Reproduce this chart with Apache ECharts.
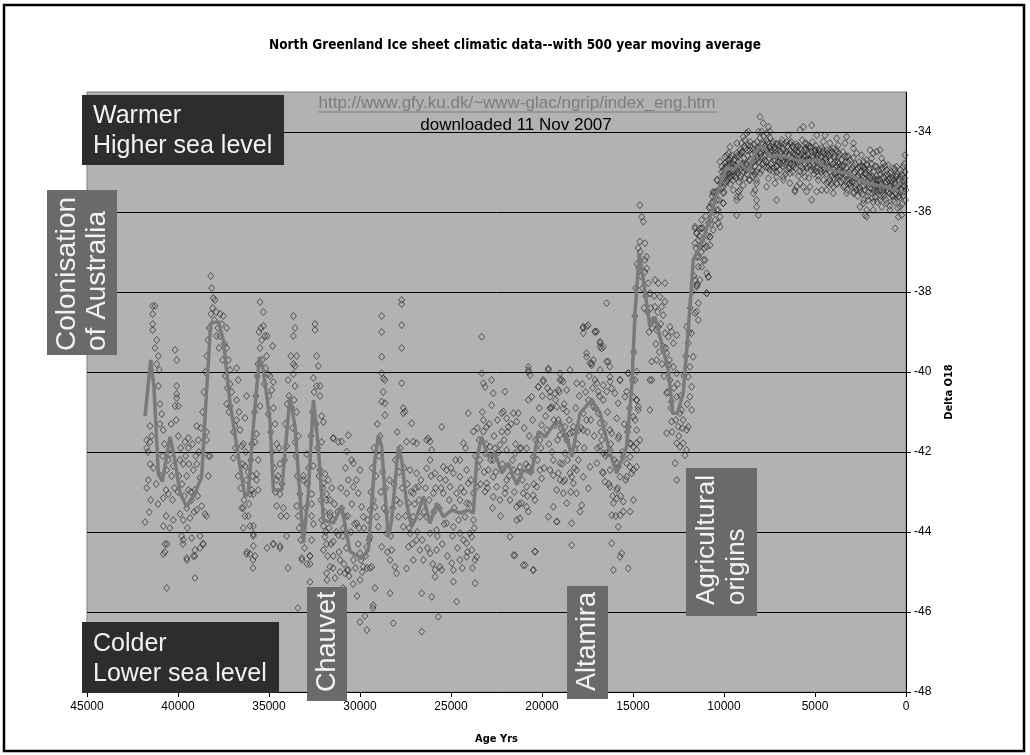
<!DOCTYPE html>
<html>
<head>
<meta charset="utf-8">
<script src="https://cdn.jsdelivr.net/npm/echarts@6/dist/echarts.min.js"></script>
<style>
  html, body { margin: 0; padding: 0; background: #fff; }
  #chart { width: 1030px; height: 755px; }
</style>
</head>
<body>
<div id="chart"></div>
<script>
const yTicks = [-48,-46,-44,-42,-40,-38,-36,-34];

// 500 year moving average (age in years BP, delta O18)
const avgAge = [41810,41500,41320,41080,40860,40440,40170,39890,39520,39070,38700,38460,38200,37780,37510,37140,36590,36320,36140,35860,35530,35310,34950,34760,34300,33850,33570,33110,32840,32560,32290,32010,31470,31010,30550,29910,29540,29180,28990,28810,28630,28440,28260,27890,27710,27440,27160,26890,26520,26150,25790,25420,24960,24510,24050,23770,23590,23320,22950,22580,22210,21850,21390,21030,20570,20200,19830,19380,19010,18550,18370,17910,17270,16810,16260,15900,15350,15070,14890,14650,14430,14070,13790,13520,13060,12820,12560,12240,11960,11690,11140,10590,10130,9850,9490,9120,8660,8300,8020,7750,7470,7110,6560,6010,5460,4910,4360,3810,3260,2710,2160,1610,1060,700,330];
const avgD18 = [-41.1,-39.7,-40.37,-42.53,-42.74,-41.62,-42.2,-43.03,-43.37,-43.03,-42.62,-40.7,-38.78,-38.74,-39.2,-40.78,-42.37,-43.12,-43.03,-41.37,-39.62,-39.95,-41.2,-42.95,-42.95,-40.62,-41.37,-44.28,-43.03,-40.7,-41.87,-43.7,-43.78,-43.37,-44.49,-44.66,-44.45,-42.2,-41.58,-41.87,-43.03,-44.12,-43.7,-41.87,-42.2,-43.28,-43.87,-43.62,-43.12,-43.78,-43.28,-43.62,-43.45,-43.53,-43.45,-43.53,-42.2,-41.62,-42.12,-42.03,-42.53,-42.28,-42.82,-42.45,-42.53,-41.49,-41.62,-41.33,-41.24,-41.78,-42.12,-41.03,-40.7,-41.03,-42.03,-42.53,-41.87,-40.37,-38.53,-37.03,-37.7,-38.87,-38.62,-39.12,-39.95,-41.03,-41.03,-40.53,-38.95,-37.2,-36.7,-35.87,-35.2,-34.87,-34.95,-34.78,-34.99,-34.53,-34.37,-34.41,-34.62,-34.58,-34.62,-34.7,-34.74,-34.7,-34.91,-34.99,-35.03,-35.16,-35.28,-35.33,-35.37,-35.45,-35.28];

// raw samples [age, delta O18], by period
const ptsEarly = [
  [41390,-38.35],[41260,-38.35],[41390,-38.55],[41390,-38.8],[41390,-38.95],[41170,-39.2],[41260,-39.4],[41080,-39.6],[41170,-39.8],[41030,-39.95],[41080,-40.35],[40990,-40.8],[40900,-41.05],[40990,-41.3],[40810,-41.45],[41540,-41.35],[41720,-41.7],[41540,-41.75],[41720,-41.9],[41540,-42.3],[41630,-42.7],[41720,-42.9],[41500,-43.2],[41580,-43.5],[41810,-43.75],[40810,-43.15],[40660,-42.95],[40810,-43.85],[40710,-44.3],[40810,-44.55],[40620,-42.45],[40440,-42.05],[40260,-42.35],[40350,-42.6],[40530,-43.05],
  [40160,-39.45],[40070,-39.7],[40070,-40.35],[40070,-40.55],[40070,-40.65],[39980,-40.85],[40160,-40.85],[39980,-41.6],[39620,-41.75],[39430,-41.65],[39430,-41.9],[39890,-42.2],[39710,-42.3],[39520,-42.6],[39160,-42.45],[38970,-41.35],[38880,-41.7],[38970,-42.3],[38790,-42.65],[39070,-42.95],[39430,-42.95],[39250,-43.2],[39520,-43.4],[39890,-43.55],[39710,-43.7],[39340,-43.65],[38970,-43.45],[38700,-43.35],[38520,-43.55],[38430,-43.6],[40260,-43.7],[39800,-44.1],[39710,-44.2],[39250,-44.15],[38790,-44.1],[38610,-44.3],[39070,-44.45],[39160,-44.6],[39520,-44.65],[38430,-41.7],[38330,-42.1],[38240,-42.1],[38330,-42.6],[38430,-41.5],
  [40620,-45.4],[39070,-45.15],[39730,-44.3],[39510,-44.7],[40600,-44.3],[40720,-44.5],[39070,-44.6],[38790,-44.4],[38630,-44.3],
  [38200,-37.6],[38150,-37.9],[38060,-38.15],[37970,-38.2],[38190,-38.55],[37690,-38.55],[37510,-38.6],[37330,-38.9],[37880,-39.1],[37690,-39.1],[37330,-39.4],[37230,-39.7],[37140,-39.95],[36780,-39.9],[36690,-40.2],[37140,-40.3],[37330,-40.8],[37140,-40.85],[36780,-40.7],[36230,-40.6],[36320,-41.15],[36780,-41.2],[36870,-41.35],[36590,-41.45],[36410,-41.8],[36500,-41.85],[36960,-42.15],[36320,-42.35],[36230,-42.7],[36040,-43.05],[36500,-43.4],[36320,-43.6],[36040,-43.85],[35860,-44.05],[36230,-44.55],[35770,-44.6],[35860,-44.35],
  [36210,-44.5],[35880,-44.7],[35880,-44.9],[35110,-44.4],[34780,-44.3],[34400,-44.4],[33960,-44.9],[33190,-44.7],[32750,-44.8],
  [35490,-38.25],[35310,-38.5],[35310,-38.85],[35220,-39.1],[35090,-39.1],[34800,-39.35],[35490,-39.4],[35400,-39.2],[35130,-39.6],[35040,-40.05],[34950,-40.1],[34760,-40.25],[34850,-40.45],[35040,-41.05],[34760,-40.9],[34670,-41.3],[35490,-40.85],[35680,-41.55],[35770,-41.75],[35590,-42.2],[35680,-42.55],[35680,-42.7],[35860,-43.05],[35590,-42.95],[35950,-42.95],[36410,-43.4],[36140,-43.6],[35860,-43.85],[36040,-44.55],[36410,-43.9],[35860,-44.1],
  [33660,-38.6],[33570,-38.9],[33660,-39.1],[33480,-39.6],[33660,-39.8],[33570,-39.85],[33660,-40.05],[33570,-40.35],[33480,-41.0],[33390,-41.6],[33570,-41.75],[34030,-41.85],[34580,-41.8],[34400,-42.3],[34580,-42.7],[34400,-43.05],[34580,-43.35],[34210,-43.4],[34030,-43.6],[34030,-44.1],[34400,-44.35],[34760,-44.3],[33480,-43.35],[33390,-43.6],[33300,-43.05],[33110,-42.7],[33110,-42.6],[32930,-42.05],[32660,-43.05],[32660,-43.3],[32660,-43.6],[32560,-43.8],[32660,-44.2],[32750,-44.6],[33200,-44.65],
  [32470,-38.8],[32470,-38.95],[32380,-39.6],[32290,-39.85],[32560,-40.15],[32380,-40.35],[32200,-40.35],[32200,-40.6],[32110,-41.1],[32010,-41.25],[32110,-41.75],[32560,-42.35],[31920,-42.55],[31740,-42.7],[31830,-43.05],[31650,-43.2],[31650,-43.6],[31470,-43.7],[32010,-43.85],[31830,-44.3],[32010,-44.45],[31470,-44.6],[31470,-41.65],[31190,-41.75],
  [33410,-45.9],[32750,-45.8],[32910,-44.8],[32750,-44.6],[32750,-45.25],[31810,-45.2],[31370,-45.15],[30930,-45.4],[31480,-44.9],[31100,-45.0],[30710,-44.95],[30380,-45.3],[30160,-45.6],[30000,-46.25],[29730,-46.1],[29620,-46.45],[29290,-45.9],[30000,-45.2],[29620,-44.9],[29180,-45.4],[29450,-44.9],
  [41650,-42.0],[41450,-41.6],[41350,-42.4],[41200,-42.8],[41100,-43.3],[40950,-42.6],[40850,-42.1],[40750,-41.8],[40650,-43.6],[40550,-42.2],[40450,-43.9],[40380,-41.3],[40300,-43.2],[40200,-42.9],[40100,-41.2],[40000,-43.0],[39950,-42.6],[39850,-41.9],[39780,-42.8],[39650,-43.1],[39580,-42.1],[39480,-43.9],[39400,-42.3],[39300,-43.0],[39200,-41.8],[39120,-43.5],[39020,-42.1],[38920,-43.1],[38850,-42.0],[38750,-41.4],[38650,-41.0],[38580,-40.5],[38500,-40.0],[38420,-39.6],[38350,-39.2],[38280,-38.9],[38100,-38.4],[38000,-38.7],[37900,-38.5],[37800,-38.9],[37750,-39.4],[37600,-38.8],[37550,-39.7],[37450,-39.3],[37400,-40.1],[37280,-40.4],[37200,-41.0],[37050,-40.5],[36950,-41.5],[36850,-41.9],[36700,-42.6],[36650,-41.0],[36550,-42.9],[36450,-42.3],[36380,-43.2],[36280,-42.0],[36150,-42.5],[36100,-43.3],[36000,-42.2],[35950,-41.8],[35900,-42.6],[35800,-41.0],[35720,-40.6],[35650,-40.1],[35600,-39.8],[35550,-39.0],[35450,-38.9],[35380,-39.7],[35250,-40.3],[35180,-39.9],[35000,-40.6],[34900,-41.5],[34830,-42.0],[34720,-42.4],[34650,-43.0],[34500,-42.6],[34450,-41.9],[34350,-43.6],[34280,-42.8],[34150,-42.2],[34100,-41.3],[34000,-40.8],[33950,-40.2],[33900,-40.6],[33800,-39.6],[33750,-40.9],[33700,-41.4],[33620,-40.7],[33520,-42.1],[33450,-42.6],[33350,-43.9],[33250,-44.2],[33150,-43.8],[33050,-44.4],[32980,-43.4],[32900,-42.8],[32820,-42.4],[32700,-41.6],[32620,-41.0],[32520,-40.5],[32420,-41.3],[32330,-41.9],[32250,-42.6],[32150,-43.2],[32050,-42.9],[31950,-43.5],[31880,-44.0],[31780,-44.6],[31700,-43.9],[31600,-44.3],[31550,-42.9],[31400,-43.3],[31300,-44.0],[31230,-43.5],[31150,-44.5],[31050,-42.9],[30950,-44.1],[30880,-44.8],[30800,-42.4],[30750,-44.4],[30680,-43.6],[30600,-45.1],[30500,-44.0],[30450,-43.3],[30300,-43.8],[30250,-44.9],[30200,-42.7],[30100,-44.3],[30050,-43.9],[29950,-44.7],[29870,-45.0],[29780,-43.9],[29700,-44.6],[29580,-43.7],[29500,-44.2],[29400,-43.0],[29330,-42.4],[29230,-41.9],[29120,-42.6],[29050,-41.3]
];

const ptsGlacial = [
  [28810,-40.03],[28720,-40.16],[28630,-40.2],[28720,-40.5],[28810,-40.74],[28630,-40.78],[28630,-41.08],[27710,-40.28],[27620,-40.9],[27530,-40.99],[27620,-41.03],[27160,-41.28],[27070,-41.74],[27440,-41.74],[26890,-41.78],[26250,-41.66],[26150,-41.74],[26340,-41.7],[26060,-41.95],[25510,-41.37],[24320,-41.78],[24510,-42.2],[24050,-41.03],[23770,-41.49],
  [23320,-40.03],[23220,-40.28],[23130,-40.37],[22770,-40.2],[22680,-40.53],[22770,-40.83],[22030,-40.49],[23220,-41.2],[23220,-41.49],[23040,-41.37],[22210,-41.03],[22120,-40.99],[21940,-41.16],[21570,-41.03],[21300,-41.03],[21390,-41.24],[22210,-41.49],[21850,-41.37],
  [20750,-39.95],[20660,-40.08],[19650,-39.91],[19010,-40.03],[18920,-40.2],[20200,-40.37],[19930,-40.24],[19560,-40.49],[19280,-40.53],[19100,-40.45],[20750,-40.7],[20570,-40.62],[19560,-40.91],[18830,-40.91],[18640,-40.99],[20020,-41.33],[19740,-41.45],[19280,-41.33],[19100,-41.2],[18740,-41.37],[20110,-41.7],[19010,-41.58],[19380,-42.2],[19010,-42.28],[18740,-42.03],[20020,-42.66],[19380,-42.58],[19100,-42.53],[19010,-42.7],[20480,-43.08],[20390,-43.2],[20840,-43.37],[20750,-43.49],[21210,-43.66],[21120,-43.28],[21390,-43.7],[19190,-43.74],[21760,-44.12],[21570,-44.58],[20390,-44.49],[20930,-44.83],[20480,-44.95],
  [32200,-42.45],[32010,-42.78],[31830,-43.2],[31650,-43.53],[32100,-43.7],[31920,-44.12],[31470,-44.24],[31190,-44.08],[30920,-43.91],[30830,-43.62],[31010,-43.41],[30640,-42.7],[30730,-43.03],[30370,-42.87],[30460,-42.2],[31470,-41.66],[31010,-41.74],[30640,-41.58],[30730,-41.99],[30370,-42.28],[30000,-42.45],[30090,-43.03],[29910,-43.37],[29820,-43.62],[30180,-43.78],[29450,-43.45],[29270,-43.2],[29180,-43.37],[29080,-43.62],[28990,-43.87],[29450,-44.12],[29630,-44.37],[30000,-44.53],[30370,-44.7],[29820,-44.87],[29360,-44.87],[30640,-44.95],[31100,-44.7],[31650,-44.87],[31830,-45.03],[30830,-45.03],
  [28810,-44.37],[28540,-44.03],[28260,-44.45],[28350,-44.7],[28080,-44.87],[27990,-45.03],[27440,-44.91],[28540,-43.49],[28000,-43.2],[27800,-43.28],[27890,-43.62],[27620,-43.87],[27250,-44.03],[27340,-44.37],[26890,-44.2],[26710,-44.45],[26520,-44.7],[27070,-44.7],[26150,-44.53],[25790,-44.45],[25610,-44.87],[25880,-44.95],[24960,-44.78],[24870,-44.95],[24510,-44.7],[24140,-44.62],[23860,-44.45],[23680,-44.7],[23590,-44.62],[24320,-44.2],[24140,-44.28],[23960,-44.03],[23860,-44.12],[24510,-44.03],[24870,-43.87],[25240,-43.78],[25790,-43.95],[26150,-44.03],[26340,-43.62],[26710,-43.62],[27070,-43.62],[27340,-43.28],[27070,-43.03],[26790,-42.87],[26890,-42.53],[27250,-42.45],[26340,-42.41],[26150,-42.2],[25880,-42.53],[25610,-42.66],[25420,-42.37],[25240,-42.45],[25050,-42.87],[25420,-43.03],[25970,-43.03],[24690,-43.03],[24510,-43.2],[24230,-43.62],[24140,-43.28],[23770,-43.7],
  [24870,-42.53],[24510,-42.62],[24140,-42.45],[24050,-42.78],[23590,-42.87],[23040,-42.78],[22680,-42.62],[23130,-42.99],[22680,-43.12],[22310,-43.2],[22490,-42.87],[22680,-42.2],[22950,-42.45],[23410,-42.2],[23130,-42.03],[22860,-41.87],[22580,-41.91],[22310,-41.82],[21940,-41.95],[21480,-42.03],[21210,-41.91],[20840,-41.91],[20480,-42.12],[20750,-42.37],[21210,-42.37],[21570,-42.45],[21940,-42.7],[22030,-43.03],[21760,-43.2],[21390,-43.37],[21030,-43.03],[20840,-42.87],[20290,-42.87],[20110,-42.45],[19560,-42.45],[19190,-42.95],[18830,-43.03],[18740,-42.7],[19380,-43.37],[19650,-43.62],[18640,-43.28],[23500,-42.37],[23770,-43.03],
  [29270,-45.83],[28170,-46.28],[28350,-45.53],[26610,-45.53],[26610,-46.49],[26060,-45.62],[25700,-46.12],[25880,-45.12],[25510,-44.95],[24870,-45.24],[24690,-45.74],[23680,-45.28],[21480,-44.58],[21030,-44.83],[20480,-44.95],[20380,-44.49],
  [28810,-38.6],[27710,-38.2],[27710,-38.3],[27710,-38.83],[28810,-39.0],[23310,-39.12],[28810,-39.62],[27710,-39.4],
  [28950,-42.1],[28900,-41.6],[28850,-43.0],[28760,-42.5],[28680,-43.4],[28600,-42.9],[28500,-44.5],[28420,-43.9],[28380,-42.7],[28300,-44.1],[28200,-43.4],[28130,-42.8],[28050,-42.2],[27950,-41.5],[27850,-42.5],[27780,-41.9],[27680,-42.9],[27580,-42.4],[27500,-43.6],[27400,-42.8],[27300,-43.9],[27200,-43.0],[27120,-44.3],[27000,-43.3],[26950,-42.9],[26850,-44.0],[26750,-43.2],[26650,-42.7],[26580,-44.2],[26480,-43.5],[26400,-42.9],[26300,-44.4],[26200,-43.2],[26100,-42.6],[26000,-44.8],[25950,-43.5],[25850,-42.9],[25750,-44.1],[25650,-43.4],[25550,-42.9],[25480,-44.3],[25380,-43.8],[25300,-42.7],[25200,-44.6],[25100,-43.2],[25000,-42.4],[24920,-44.1],[24820,-43.4],[24750,-42.2],[24650,-44.4],[24580,-43.7],[24450,-42.9],[24380,-44.9],[24280,-43.0],[24200,-41.9],[24100,-44.5],[24000,-43.3],[23900,-42.7],[23820,-44.9],[23720,-43.9],[23650,-42.1],[23550,-41.4],[23450,-41.7],[23380,-42.8],[23280,-41.0],[23180,-42.5],[23080,-41.8],[23000,-42.9],[22900,-41.3],[22820,-42.2],[22720,-43.4],[22640,-41.6],[22540,-42.5],[22450,-41.2],[22380,-42.0],[22280,-43.6],[22180,-42.3],[22080,-41.7],[22000,-42.9],[21900,-41.5],[21800,-42.6],[21700,-41.3],[21620,-42.2],[21520,-43.0],[21450,-41.8],[21350,-42.5],[21250,-43.3],[21150,-41.9],[21080,-42.7],[20980,-41.4],[20880,-42.3],[20800,-43.1],[20700,-41.6],[20620,-42.5],[20520,-41.2],[20450,-42.8],[20350,-41.7],[20250,-42.2],[20150,-40.9],[20050,-41.9],[19980,-40.6],[19880,-42.4],[19800,-41.1],[19700,-40.4],[19620,-41.8],[19520,-40.9],[19450,-42.0],[19350,-41.2],[19250,-40.7],[19150,-41.7],[19050,-40.5],[18950,-41.4],[18880,-42.3],[18780,-40.8],[18700,-41.6],[18600,-42.2],[18500,-41.2],[18420,-43.0],[18320,-41.5],[18230,-42.4],[18150,-40.9],[18050,-41.8],[17950,-40.6],[17850,-41.4],[17780,-40.3],[17680,-41.9],[17600,-40.5],[17500,-41.5],[17400,-40.1],[17320,-41.2],[17220,-40.4],[17130,-41.6],[17050,-40.9],[16950,-41.9],[16850,-40.6],[16750,-41.5],[16680,-42.5],[16580,-41.3],[16500,-42.1],[16400,-41.0],[16320,-42.8],[16220,-41.8],[16120,-43.1],[16030,-42.2],[15950,-43.6],[15850,-42.9],[15780,-41.6],[15680,-43.1],[15580,-42.0],[15480,-41.3],[15400,-42.7],[15300,-41.5],[15200,-40.9],[15120,-41.8]
];

const ptsDeglacial = [
  [18370,-44.33],[19190,-43.74],[18370,-43.78],[17910,-43.49],[17820,-43.33],[16170,-44.28],[16080,-44.95],[15710,-44.62],[15620,-44.53],[15260,-44.91],[15810,-43.87],[15710,-43.58],[16170,-43.58],[16080,-43.28],[15530,-43.49],[15160,-43.49],[14980,-43.2],[15530,-43.24],[15890,-43.16],[15890,-42.95],[16260,-42.87],[16540,-42.74],[16630,-42.53],[16260,-42.45],[15810,-42.37],[15350,-42.28],[14980,-42.45],[14800,-42.37],[15160,-42.12],[15710,-42.62],[15350,-42.62],[14980,-41.87],[14800,-41.78],[15160,-41.78],[14800,-41.45],[14980,-41.12],[14710,-40.87],[14800,-40.7],[14980,-40.62],[15350,-40.49],[15260,-40.03],[15710,-40.2],[15810,-40.78],[15890,-41.16],[16260,-41.45],[16260,-41.95],[16630,-42.03],[16720,-41.7],[16810,-41.28],[16900,-41.03],[17180,-40.87],[17550,-41.2],[17730,-41.45],[18000,-41.45],[18280,-41.37],[18460,-41.53],[18640,-41.7],[18190,-41.95],[18000,-42.2],[18100,-42.45],[18460,-42.53],[18830,-42.74],[18280,-42.78],[17730,-42.62],[17450,-42.91],[18100,-43.03],[18370,-42.62],[17360,-42.37],[16990,-42.28],[17730,-41.03],[17450,-40.7],[17270,-40.74],[16990,-40.28],[16630,-40.33],[16450,-40.49],[16260,-40.12],[16810,-39.95],[17360,-39.78],[17270,-39.83],[17550,-39.62],[16810,-39.37],[16810,-39.24],[16450,-39.74],[16260,-40.24],[18100,-40.28],[18460,-39.95],[18830,-40.24],[18640,-40.45],[19010,-40.2],[19190,-40.87],[19470,-40.87],[19560,-40.62],[19930,-40.2],[20200,-40.37],[20750,-39.87],[20750,-40.0],[19650,-39.95],[17730,-39.03],[16990,-38.99],[16630,-39.37],
  [17730,-38.87],[17550,-38.87],[17090,-38.99],[16450,-38.28],[16810,-39.28],[16720,-39.41],[17550,-39.53],[17270,-39.78],[17180,-39.7],[16360,-39.74],[16270,-39.87],[17090,-40.2],[16910,-40.49],[16630,-40.7],[16170,-40.41],[15720,-40.2],[15990,-40.53],[15260,-40.03],[14800,-39.99],[14890,-40.2],[15440,-40.62],[14800,-40.7],[14710,-40.95],[14890,-41.2],[15260,-41.37],[14620,-41.7],[14800,-41.95],[15070,-42.53],[15170,-42.37],[15530,-42.12],[15900,-42.28],[16450,-42.03],[16810,-41.87],[15810,-41.66],[16170,-41.53],[14070,-40.95],[14070,-40.2],[12880,-41.24],[12970,-38.87],[17750,-38.9],[17470,-38.83],[17090,-39.0],
  [14620,-35.83],[14520,-36.12],[14430,-36.24],[14620,-36.74],[14340,-36.78],[14250,-37.12],[14340,-37.2],[14250,-37.41],[14160,-37.78],[14070,-38.03],[13790,-37.7],[13610,-37.78],[13520,-38.12],[13430,-38.37],[13340,-38.58],[13790,-38.37],[13610,-38.87],[13880,-38.7],[13700,-38.95],[13250,-37.78],[13250,-38.24],[13240,-39.03],[13060,-39.12],[12880,-38.99],[12780,-39.28],[12600,-39.08],[13330,-39.37],[13150,-39.53],[13060,-39.83],[13700,-39.7],[13970,-39.74],[13970,-40.2],[12780,-39.87],[12600,-40.03],[12970,-40.2],[13150,-40.53],[12880,-40.74],[12600,-40.62],[12420,-41.03],[12330,-40.95],[12240,-41.2],[12050,-41.45],[12510,-41.37],[12600,-41.78],[12420,-41.87],[12240,-41.78],[12050,-41.95],[12140,-42.08],[12690,-42.28],[12600,-42.7],[13150,-41.53],[11960,-41.37],[11780,-40.95],[11870,-40.62],[11780,-40.37],[11960,-40.12],[11870,-39.87],[11690,-39.62],[11960,-39.28],[11780,-39.03],[12050,-38.87],[11590,-38.53],[11410,-38.28],[11500,-38.49],[11410,-38.7],[11500,-37.87],[11320,-37.7],[11590,-37.7],[11410,-37.37],[11130,-37.2],[10860,-37.62],[10950,-38.03],[11500,-37.12],[11590,-36.78],[11500,-36.53],[11320,-36.41],[11590,-36.41],[11230,-36.2],[10860,-36.28],[10770,-36.62],[10770,-35.87],[10590,-35.74],[10590,-35.53],[10400,-35.95],[10310,-36.28],[10220,-36.12],[10040,-35.78],[10130,-35.41],[9950,-35.28],[10040,-35.53],
  [15030,-40.2],[14950,-39.5],[14900,-38.6],[14850,-37.9],[14780,-37.3],[14720,-36.9],[14680,-37.4],[14600,-37.0],[14560,-37.6],[14480,-37.9],[14400,-38.4],[14350,-37.5],[14300,-38.1],[14200,-38.5],[14120,-39.0],[14020,-38.4],[13950,-38.9],[13850,-38.1],[13750,-39.3],[13650,-38.5],[13560,-39.5],[13480,-38.8],[13400,-39.8],[13300,-40.1],[13200,-39.4],[13100,-40.5],[13000,-39.7],[12920,-40.9],[12850,-41.5],[12750,-40.4],[12650,-41.2],[12550,-40.3],[12480,-41.6],[12380,-40.6],[12300,-41.4],[12200,-40.1],[12100,-39.6],[12020,-40.8],[11920,-39.0],[11850,-38.4],[11750,-38.0],[11650,-37.6],[11550,-36.9],[11450,-37.8],[11350,-36.6],[11250,-37.0],[11180,-36.4],[11080,-36.9],[11000,-36.1],[10900,-36.6],[10820,-35.9],[10720,-36.3],[10650,-35.6],[10550,-36.0],[10450,-35.5],[10350,-35.2],[10280,-35.7],[10180,-35.3],[10080,-35.1],[10000,-35.5]
];

const ptsHolocene = [
  [8020,-33.62],[7840,-33.78],[7560,-33.87],[7470,-33.99],[7930,-33.99],[7660,-34.03],[8110,-33.99],[8760,-34.03],[8850,-34.2],[9030,-34.28],[8660,-34.33],[8570,-34.45],[9120,-34.45],[9300,-34.53],[9580,-34.58],[9850,-34.58],[9760,-34.7],[9950,-34.78],[10130,-34.87],[10040,-34.95],[9580,-34.87],[9490,-34.99],[9210,-34.87],[8940,-34.78],[8760,-34.95],[8390,-34.99],[8210,-34.7],[7930,-34.62],[7660,-34.45],[7470,-34.37],[7290,-34.49],[7020,-34.45],[6830,-34.28],[6460,-34.08],[6380,-34.28],[5820,-33.95],[5640,-33.87],[5180,-33.83],[4910,-34.08],[4450,-34.08],[4540,-34.24],[5550,-34.28],[6010,-34.37],[6190,-34.53],[6560,-34.66],[6740,-34.78],[7110,-34.87],[7290,-34.99],[7560,-35.16],[8020,-35.03],[8210,-35.2],[8300,-35.45],[8210,-35.7],[8210,-35.87],[8110,-36.08],[8570,-35.2],[8940,-35.33],[9210,-35.49],[9120,-35.62],[9300,-35.7],[9490,-35.45],[9300,-36.08],
  [7200,-35.28],[6740,-35.12],[6380,-35.03],[6100,-35.45],[5820,-34.99],[5460,-34.87],[5550,-35.12],[5270,-35.37],[4820,-35.2],[4540,-34.95],[4180,-34.87],[4360,-34.75],[4630,-34.62],[4910,-34.53],[4180,-34.53],[3990,-34.41],[3720,-34.33],[3350,-34.28],[2890,-34.41],[3260,-34.62],[3720,-34.62],[3900,-34.75],[3630,-34.87],[3530,-35.03],[3810,-35.12],[4180,-35.2],[4360,-35.45],[4000,-35.53],[3260,-35.53],[3080,-35.28],[2710,-35.12],[2530,-34.87],[2340,-34.75],[1980,-34.45],[1800,-34.53],[1610,-34.49],[1430,-34.45],[1340,-34.66],[1890,-34.66],[2340,-34.87],[2250,-35.03],[1980,-35.12],[1610,-35.2],[1250,-35.12],[1060,-34.95],[880,-35.03],[600,-34.95],[330,-35.12],[50,-35.16],[50,-34.58],[40,-35.0],[150,-35.33],[510,-35.37],[880,-35.53],[1250,-35.45],[1700,-35.62],[2070,-35.7],[2340,-35.7],[2530,-35.87],[2250,-36.08],[2160,-36.12],[1800,-35.95],[1430,-35.7],[1060,-35.78],[700,-35.7],[420,-35.62],[330,-35.87],[240,-36.08],[420,-36.12],[600,-36.41],[880,-35.95],[1340,-35.87],[1800,-35.75],[2530,-35.45],[2890,-35.53],[2800,-35.37],[3260,-35.2],[3440,-35.37],
  [6010,-35.37],[6380,-35.28],[6740,-35.2],[7110,-35.12],[7470,-34.95],[7660,-34.87],[7840,-34.78],[6380,-34.7],[6010,-34.7],[5640,-34.62],[5270,-34.7],[5090,-34.87],[4910,-34.99],[7110,-34.62],[6920,-34.78],[6560,-34.95],[6190,-34.87],[5460,-34.45],[5270,-34.37],[5000,-34.45],[4540,-34.45],[5640,-35.37],[5820,-35.28],[4180,-34.28],[3810,-34.16],[3260,-34.12],[2890,-34.28],[2710,-34.53],[2440,-34.58],[2160,-34.7],[1610,-34.87],[1250,-34.78],[970,-34.83],[510,-34.87],[790,-35.2],[600,-35.28],[1150,-35.28],[1610,-35.45],[1890,-35.41],[510,-35.12],[150,-34.87],[880,-35.37],
  [11590,-36.37],[11500,-36.53],[11410,-36.7],[11320,-36.87],[11140,-36.78],[10950,-36.87],[10770,-36.83],[11040,-37.2],[11230,-37.37],[10950,-37.53],[10860,-37.62],[11410,-37.12],[11500,-37.83],[10950,-38.03],[11230,-36.41],[10770,-36.62],[10590,-36.45],[10490,-36.2],[10220,-36.37],[10310,-35.95],[10680,-35.78],[10400,-35.7],[10040,-35.78],[10590,-35.49],[10310,-35.45],[10040,-35.37],[10400,-35.2],[10130,-34.99],[10220,-34.74],[9950,-34.62],[9760,-34.53],[9670,-34.37],[9300,-34.28],[8940,-34.12],[8660,-33.99],[9300,-35.62],[9120,-35.45],[9670,-35.12],[9850,-35.2],[8210,-35.28],[8390,-35.53],[7660,-35.37],[7110,-35.7],[6100,-35.49],[5460,-35.49],[5180,-35.7],[4910,-35.49],[4630,-35.45],[4360,-35.28],[4000,-35.37],[3810,-35.28],[2160,-35.95],[2340,-35.78]
];

// the dense core of the Holocene band
const ptsHoloceneCore = [
  [9950,-34.9],[9900,-35.1],[9870,-34.75],[9820,-35.25],[9780,-34.95],[9740,-35.05],[9700,-34.8],[9660,-35.3],[9620,-34.65],[9580,-35.1],[9540,-34.9],[9500,-35.2],[9460,-34.7],[9420,-35.0],[9380,-34.85],[9340,-35.15],[9300,-34.6],[9260,-35.0],[9220,-34.75],[9180,-35.25],[9140,-34.95],[9100,-34.55],[9060,-35.1],[9020,-34.8],[8980,-34.5],[8940,-35.0],[8900,-34.65],[8860,-35.15],[8820,-34.4],[8780,-34.8],[8740,-35.05],[8700,-34.6],[8660,-34.9],[8620,-35.2],[8580,-34.7],[8540,-34.35],[8500,-34.95],[8460,-34.55],[8420,-35.1],[8380,-34.75],[8340,-34.3],[8300,-34.85],[8260,-34.5],[8220,-35.0],[8180,-34.25],[8140,-34.65],[8100,-34.4],[8060,-34.9],[8020,-34.15],[7980,-34.55],[7940,-34.3],[7900,-34.8],[7860,-34.45],[7820,-34.1],[7780,-34.6],[7740,-34.35],[7700,-34.75],[7660,-34.2],[7620,-34.5],[7580,-34.9],[7540,-34.3],[7500,-34.65],[7460,-34.15],[7420,-34.8],[7380,-34.45],[7340,-34.6],[7300,-34.25],[7260,-34.9],[7220,-34.4],[7180,-34.7],[7140,-34.3],[7100,-35.0],[7060,-34.55],[7020,-34.75],[6980,-34.35],[6940,-34.95],[6900,-34.5],[6860,-34.65],[6820,-34.2],[6780,-34.85],[6740,-34.45],[6700,-34.6],[6660,-34.3],[6620,-35.05],[6580,-34.5],[6540,-34.75],[6500,-34.35],[6460,-34.9],[6420,-34.55],[6380,-34.45],[6340,-34.8],[6300,-34.25],[6260,-34.65],[6220,-35.0],[6180,-34.4],[6140,-34.7],[6100,-34.55],[6060,-34.9],[6020,-34.3],[5980,-34.75],[5940,-34.5],[5900,-35.1],[5860,-34.6],[5820,-34.4],[5780,-34.85],[5740,-34.55],[5700,-34.2],[5660,-34.7],[5620,-35.0],[5580,-34.45],[5540,-34.8],[5500,-34.6],[5460,-34.3],[5420,-34.9],[5380,-34.55],[5340,-35.15],[5300,-34.7],[5260,-34.4],[5220,-34.95],[5180,-34.6],[5140,-34.25],[5100,-34.8],[5060,-35.05],[5020,-34.5],[4980,-34.7],[4940,-34.35],[4900,-34.9],[4860,-34.6],[4820,-35.1],[4780,-34.45],[4740,-34.8],[4700,-34.6],[4660,-35.0],[4620,-34.4],[4580,-34.75],[4540,-35.2],[4500,-34.55],[4460,-34.9],[4420,-34.65],[4380,-35.05],[4340,-34.45],[4300,-34.85],[4260,-35.25],[4220,-34.6],[4180,-35.0],[4140,-34.7],[4100,-35.3],[4060,-34.5],[4020,-34.9],[3980,-35.15],[3940,-34.65],[3900,-35.05],[3860,-34.45],[3820,-34.85],[3780,-35.3],[3740,-34.75],[3700,-35.1],[3660,-34.55],[3620,-34.95],[3580,-35.25],[3540,-34.7],[3500,-35.0],[3460,-34.5],[3420,-34.85],[3380,-35.35],[3340,-34.75],[3300,-35.1],[3260,-34.9],[3220,-35.45],[3180,-34.6],[3140,-35.0],[3100,-35.2],[3060,-34.7],[3020,-35.35],[2980,-34.9],[2940,-35.15],[2900,-34.65],[2860,-35.5],[2820,-35.0],[2780,-34.8],[2740,-35.3],[2700,-34.95],[2660,-35.6],[2620,-35.1],[2580,-34.75],[2540,-35.4],[2500,-35.0],[2460,-35.2],[2420,-34.85],[2380,-35.55],[2340,-35.15],[2300,-34.9],[2260,-35.45],[2220,-35.05],[2180,-35.3],[2140,-34.8],[2100,-35.6],[2060,-35.1],[2020,-34.95],[1980,-35.4],[1940,-35.15],[1900,-34.8],[1860,-35.65],[1820,-35.25],[1780,-35.0],[1740,-35.5],[1700,-34.85],[1660,-35.3],[1620,-35.1],[1580,-35.75],[1540,-35.2],[1500,-34.95],[1460,-35.45],[1420,-35.05],[1380,-35.6],[1340,-35.3],[1300,-34.9],[1260,-35.55],[1220,-35.15],[1180,-35.4],[1140,-34.85],[1100,-35.7],[1060,-35.25],[1020,-35.05],[980,-35.5],[940,-35.2],[900,-35.85],[860,-35.35],[820,-35.0],[780,-35.6],[740,-35.15],[700,-35.4],[660,-34.9],[620,-35.75],[580,-35.3],[540,-35.55],[500,-35.05],[460,-35.9],[420,-35.35],[380,-35.2],[340,-35.65],[300,-34.95],[260,-35.45],[220,-35.8],[180,-35.1],[140,-35.5],[100,-34.8],[60,-35.35],[20,-35.7],
  [9930,-35.0],[9850,-34.85],[9760,-35.15],[9680,-34.7],[9600,-35.0],[9520,-34.8],[9440,-35.1],[9360,-34.7],[9280,-34.95],[9200,-34.6],[9120,-35.15],[9040,-34.5],[8960,-34.85],[8880,-34.35],[8800,-34.95],[8720,-34.45],[8640,-34.75],[8560,-34.25],[8480,-34.8],[8400,-34.45],[8320,-35.05],[8240,-34.6],[8160,-34.4],[8080,-34.75],[8000,-34.5],[7920,-34.95],[7840,-34.3],[7760,-34.7],[7680,-34.45],[7600,-34.25],[7520,-34.85],[7440,-34.5],[7360,-34.3],[7280,-34.7],[7200,-34.45],[7120,-34.85],[7040,-34.3],[6960,-34.6],[6880,-34.8],[6800,-34.4],[6720,-34.7],[6640,-34.55],[6560,-34.25],[6480,-34.7],[6400,-34.9],[6320,-34.5],[6240,-34.35],[6160,-34.8],[6080,-34.45],[6000,-34.6],[5920,-34.35],[5840,-34.75],[5760,-34.45],[5680,-34.9],[5600,-34.6],[5520,-34.4],[5440,-34.7],[5360,-34.35],[5280,-34.85],[5200,-34.5],[5120,-34.65],[5040,-34.95],[4960,-34.45],[4880,-34.75],[4800,-34.55],[4720,-34.95],[4640,-34.8],[4560,-34.5],[4480,-35.0],[4400,-34.7],[4320,-34.55],[4240,-34.9],[4160,-34.45],[4080,-35.1],[4000,-34.8],[3920,-34.6],[3840,-35.0],[3760,-34.5],[3680,-34.8],[3600,-35.1],[3520,-34.85],[3440,-35.2],[3360,-34.6],[3280,-35.05],[3200,-34.75],[3120,-35.3],[3040,-34.95],[2960,-35.25],[2880,-34.85],[2800,-35.15],[2720,-35.45],[2640,-34.9],[2560,-35.25],[2480,-35.5],[2400,-35.1],[2320,-35.35],[2240,-34.95],[2160,-35.25],[2080,-35.5],[2000,-34.9],[1920,-35.3],[1840,-35.1],[1760,-35.45],[1680,-35.2],[1600,-35.5],[1520,-35.35],[1440,-35.2],[1360,-34.95],[1280,-35.35],[1200,-35.6],[1120,-35.1],[1040,-35.45],[960,-35.3],[880,-35.15],[800,-35.45],[720,-35.6],[640,-35.2],[560,-35.1],[480,-35.45],[400,-35.6],[320,-35.3],[240,-35.05],[160,-35.6],[80,-35.25],[0,-35.45]
];

const scatterPts = ptsEarly.concat(ptsGlacial, ptsDeglacial, ptsHolocene, ptsHoloceneCore);
const avgPts = avgAge.map((a, i) => [a, avgD18[i]]);

const chart = echarts.init(document.getElementById('chart'));

const boldNarrow = "'Liberation Sans Narrow', 'DejaVu Sans Condensed', 'Liberation Sans', sans-serif";
const plain = "'Liberation Sans', Arial, sans-serif";

function label(x, y, text, size, rotate, align) {
  return {
    type: 'text', x: x, y: y, rotation: rotate ? Math.PI / 2 : 0, z: 20,
    style: { text: text, fill: '#f2f2f2', font: size + 'px ' + plain,
             align: align || 'left', verticalAlign: 'middle' }
  };
}
function box(x, y, w, h, color) {
  return { type: 'rect', shape: { x: x, y: y, width: w, height: h }, z: 15,
           style: { fill: color } };
}

const option = {
  backgroundColor: '#fff',
  animation: false,
  title: {
    text: 'North Greenland Ice sheet climatic data--with 500 year moving average',
    left: 'center', top: 33,
    textStyle: { fontFamily: boldNarrow, fontWeight: 'bold', fontSize: 13.5, color: '#000' }
  },
  grid: {
    left: 87, right: 124, top: 92, bottom: 63,
    show: true, backgroundColor: '#b2b2b2', borderColor: '#808080', borderWidth: 1
  },
  xAxis: {
    type: 'value', inverse: true, min: 0, max: 45000, interval: 5000,
    name: 'Age Yrs', nameLocation: 'middle', nameGap: 42,
    nameTextStyle: { fontFamily: boldNarrow, fontWeight: 'bold', fontSize: 11, color: '#000' },
    axisLine: { show: true, lineStyle: { color: '#000', width: 1 } },
    axisTick: { show: true, inside: false, length: 5, lineStyle: { color: '#000' } },
    axisLabel: { color: '#000', fontFamily: plain, fontSize: 12, margin: 9,
                 formatter: v => String(v) },
    splitLine: { show: false }
  },
  yAxis: {
    type: 'value', position: 'right', min: -48, max: -33, interval: 2,
    name: 'Delta O18', nameLocation: 'middle', nameGap: 38, nameRotate: 90,
    nameTextStyle: { fontFamily: boldNarrow, fontWeight: 'bold', fontSize: 11, color: '#000' },
    axisLine: { show: true, lineStyle: { color: '#000', width: 1 } },
    axisTick: { show: true, inside: false, length: 5, lineStyle: { color: '#000' },
                customValues: yTicks },
    axisLabel: { color: '#000', fontFamily: plain, fontSize: 12, margin: 8,
                 customValues: yTicks },
    splitLine: { show: true, lineStyle: { color: '#000', width: 1 } }
  },
  series: [
    {
      name: 'Delta O18', type: 'scatter', data: scatterPts,
      symbol: 'diamond', symbolSize: [6, 7],
      itemStyle: { color: 'rgba(0,0,0,0)', borderColor: '#1e1e1e', borderWidth: 0.8 },
      z: 2
    },
    {
      name: '500 yr moving average', type: 'line', data: avgPts,
      showSymbol: false, smooth: false,
      lineStyle: { color: '#7a7a7a', width: 3.5 },
      z: 3
    }
  ],
  graphic: [
    { type: 'rect', shape: { x: 4, y: 5, width: 1020, height: 746 }, z: 30, silent: true,
      style: { fill: 'none', stroke: '#000', lineWidth: 2.5 } },
    { type: 'text', x: 517, y: 103, z: 20,
      style: { text: 'http://www.gfy.ku.dk/~www-glac/ngrip/index_eng.htm', fill: '#7c7c7c',
               font: '17px ' + plain, align: 'center', verticalAlign: 'middle' } },
    { type: 'line', shape: { x1: 318, y1: 112, x2: 717, y2: 112 }, z: 20,
      style: { stroke: '#7c7c7c', lineWidth: 1 } },
    { type: 'text', x: 516, y: 125, z: 20,
      style: { text: 'downloaded 11 Nov 2007', fill: '#000',
               font: '17px ' + plain, align: 'center', verticalAlign: 'middle' } },
    box(82, 95, 202, 70, '#2d2d2d'),
    label(93, 116, 'Warmer', 25),
    label(93, 146, 'Higher sea level', 25),
    box(82, 622, 197, 71, '#2d2d2d'),
    label(93, 644, 'Colder', 25),
    label(93, 674, 'Lower sea level', 25),
    box(47, 190, 70, 165, '#6a6a6a'),
    label(67, 351, 'Colonisation', 28, true),
    label(97, 351, 'of Australia', 28, true),
    box(307, 587, 40, 114, '#6a6a6a'),
    label(328, 692, 'Chauvet', 27, true),
    box(567, 586, 41, 113, '#6a6a6a'),
    label(588, 691, 'Altamira', 27, true),
    box(686, 468, 71, 148, '#6a6a6a'),
    label(707, 605, 'Agricultural', 26, true),
    label(737, 605, 'origins', 26, true)
  ]
};

chart.setOption(option);
</script>
</body>
</html>
